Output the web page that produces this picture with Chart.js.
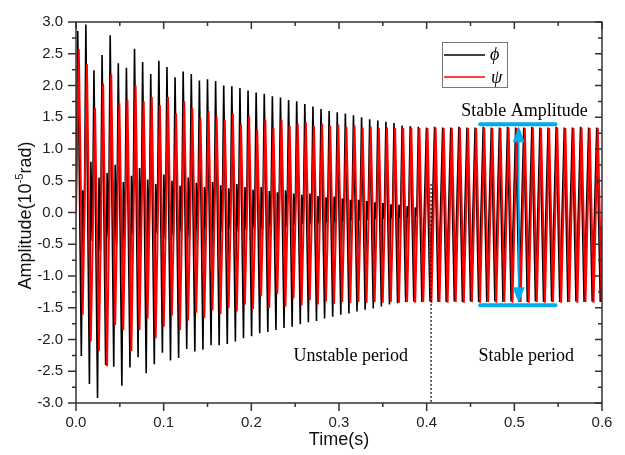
<!DOCTYPE html>
<html>
<head>
<meta charset="utf-8">
<script src="https://cdn.jsdelivr.net/npm/chart.js@4.4.0/dist/chart.umd.min.js"></script>
<style>
  html, body { margin: 0; padding: 0; background: #fff; }
</style>
</head>
<body>
<canvas id="myChart" width="625" height="455"></canvas>
<script>
// values, one entry per oscillation cycle
const period = 0.00925;      // s, spacing of the peaks
const phiStart = 0.002;      // time of the first phi peak
const psiStart = 0.0032;     // time of the first psi peak

const phiPeaks = [
  2.86, 2.96, 2.24, 2.48, 2.79, 2.35, 2.28, 2.58, 2.37, 2.18,
  2.39, 2.29, 2.13, 2.22, 2.18, 2.08, 2.10, 2.07, 2.00, 1.99,
  1.96, 1.92, 1.89, 1.87, 1.83, 1.81, 1.77, 1.75, 1.71, 1.67,
  1.63, 1.60, 1.58, 1.56, 1.53, 1.50, 1.47, 1.45, 1.43, 1.41,
  1.37, 1.36, 1.35, 1.34, 1.35, 1.34, 1.34, 1.35, 1.34, 1.34,
  1.35, 1.34, 1.34, 1.35, 1.34, 1.34, 1.35, 1.34, 1.34, 1.35,
  1.34, 1.34, 1.35, 1.34, 1.34, 1.35
];
const phiTroughs = [
  -2.26, -2.70, -2.92, -2.40, -2.43, -2.73, -2.44, -2.28, -2.53, -2.39,
  -2.21, -2.33, -2.29, -2.15, -2.19, -2.16, -2.09, -2.09, -2.07, -2.03,
  -1.98, -1.95, -1.90, -1.88, -1.85, -1.82, -1.80, -1.76, -1.73, -1.71,
  -1.67, -1.64, -1.61, -1.59, -1.56, -1.53, -1.51, -1.48, -1.45, -1.43,
  -1.41, -1.40, -1.41, -1.40, -1.41, -1.41, -1.40, -1.41, -1.40, -1.41,
  -1.41, -1.40, -1.41, -1.40, -1.41, -1.41, -1.40, -1.41, -1.40, -1.41,
  -1.41, -1.40, -1.41, -1.40, -1.41, -1.41
];
// small inner swing of phi during the unstable period
const phiInnerHi = [
  0.35, 0.80, 0.55, 0.62, 0.75, 0.48, 0.58, 0.70, 0.52, 0.45,
  0.60, 0.50, 0.42, 0.55, 0.47, 0.40, 0.48, 0.43, 0.38, 0.45,
  0.40, 0.36, 0.40, 0.34, 0.32, 0.35, 0.30, 0.28, 0.30, 0.26,
  0.24, 0.25, 0.22, 0.20, 0.20, 0.18, 0.16, 0.15, 0.13, 0.12,
  0.10, 0.08
];
const phiInnerLo = [
  -0.30, -0.45, -0.60, -0.38, -0.50, -0.42, -0.35, -0.48, -0.40, -0.33,
  -0.42, -0.36, -0.30, -0.38, -0.32, -0.28, -0.33, -0.30, -0.26, -0.30,
  -0.27, -0.24, -0.27, -0.22, -0.21, -0.23, -0.20, -0.18, -0.19, -0.17,
  -0.16, -0.16, -0.14, -0.13, -0.13, -0.12, -0.11, -0.10, -0.09, -0.08,
  -0.07, -0.06
];
const psiPeaks = [
  2.57, 2.34, 1.64, 2.03, 2.18, 1.72, 1.77, 2.00, 1.75, 1.82,
  1.69, 1.82, 1.56, 1.75, 1.64, 1.49, 1.60, 1.51, 1.46, 1.56,
  1.38, 1.51, 1.30, 1.46, 1.33, 1.46, 1.36, 1.40, 1.42, 1.36,
  1.40, 1.36, 1.38, 1.35, 1.37, 1.34, 1.35, 1.33, 1.34, 1.33,
  1.33, 1.34, 1.33, 1.33, 1.34, 1.33, 1.33, 1.34, 1.33, 1.33,
  1.34, 1.33, 1.33, 1.34, 1.33, 1.33, 1.34, 1.33, 1.33, 1.34,
  1.33, 1.33, 1.34, 1.33, 1.33, 1.34
];
const psiTroughs = [
  -1.61, -2.03, -2.18, -2.42, -1.77, -1.85, -2.18, -1.85, -1.67, -1.98,
  -1.80, -1.62, -1.85, -1.70, -1.58, -1.66, -1.54, -1.60, -1.50, -1.56,
  -1.45, -1.52, -1.32, -1.50, -1.28, -1.48, -1.35, -1.46, -1.38, -1.45,
  -1.40, -1.44, -1.41, -1.43, -1.41, -1.42, -1.41, -1.42, -1.41, -1.42,
  -1.41, -1.42, -1.41, -1.42, -1.41, -1.42, -1.41, -1.42, -1.41, -1.42,
  -1.41, -1.42, -1.41, -1.42, -1.41, -1.42, -1.41, -1.42, -1.41, -1.42,
  -1.41, -1.42, -1.41, -1.42, -1.41, -1.42
];

// annotation values
const splitTime = 0.405;
const stableTop = 1.39;
const stableBottom = -1.46;
const barFrom = 0.461;
const barTo = 0.547;
const arrowAt = 0.505;

const sans = "'Liberation Sans', Arial, sans-serif";
const serif = "'Liberation Serif', 'Times New Roman', serif";
const blue = '#00aeef';

let buildPhi = () => {
  const pts = [{ x: 0, y: 0 }];
  for (let k = 0; k < phiPeaks.length; k++) {
    const t0 = phiStart + k * period;
    pts.push({ x: t0, y: phiPeaks[k] });
    pts.push({ x: t0 + 0.44 * period, y: phiTroughs[k] });
    if (k < phiInnerHi.length) {
      pts.push({ x: t0 + 0.62 * period, y: phiInnerHi[k] });
      pts.push({ x: t0 + 0.8 * period, y: phiInnerLo[k] });
    }
  }
  return pts;
};
let buildPsi = () => {
  const pts = [{ x: 0, y: 0 }];
  for (let k = 0; k < psiPeaks.length; k++) {
    const t0 = psiStart + k * period;
    pts.push({ x: t0, y: psiPeaks[k] });
    pts.push({ x: t0 + 0.48 * period, y: psiTroughs[k] });
  }
  return pts;
};

const decor = {
  id: 'decor',
  afterDatasetsDraw(chart) {
    const { ctx, chartArea: ca } = chart;
    const xs = chart.scales.x;
    const ys = chart.scales.y;
    ctx.save();

    // dotted split line
    ctx.strokeStyle = '#000';
    ctx.lineWidth = 1.2;
    ctx.setLineDash([2, 2]);
    ctx.beginPath();
    ctx.moveTo(xs.getPixelForValue(splitTime), ys.getPixelForValue(0.45));
    ctx.lineTo(xs.getPixelForValue(splitTime), ca.bottom);
    ctx.stroke();
    ctx.setLineDash([]);

    // stable amplitude bars and arrow
    const x1 = xs.getPixelForValue(barFrom);
    const x2 = xs.getPixelForValue(barTo);
    const yt = ys.getPixelForValue(stableTop);
    const yb = ys.getPixelForValue(stableBottom);
    const xa = xs.getPixelForValue(arrowAt);
    ctx.strokeStyle = blue;
    ctx.fillStyle = blue;
    ctx.lineCap = 'round';
    ctx.lineWidth = 4;
    ctx.beginPath();
    ctx.moveTo(x1, yt); ctx.lineTo(x2, yt);
    ctx.moveTo(x1, yb); ctx.lineTo(x2, yb);
    ctx.stroke();
    ctx.lineCap = 'butt';
    ctx.lineWidth = 1.6;
    ctx.beginPath();
    ctx.moveTo(xa, yt + 10); ctx.lineTo(xa, yb - 10);
    ctx.stroke();
    ctx.beginPath();
    ctx.moveTo(xa, yt + 2); ctx.lineTo(xa - 6, yt + 18); ctx.lineTo(xa + 6, yt + 18);
    ctx.closePath();
    ctx.moveTo(xa, yb - 2); ctx.lineTo(xa - 6, yb - 18); ctx.lineTo(xa + 6, yb - 18);
    ctx.closePath();
    ctx.fill();

    // texts
    ctx.fillStyle = '#000';
    ctx.font = '18px ' + serif;
    ctx.textAlign = 'center';
    ctx.textBaseline = 'middle';
    ctx.fillText('Stable Amplitude', xs.getPixelForValue(0.5115), ys.getPixelForValue(1.6));
    ctx.fillText('Unstable period', xs.getPixelForValue(0.3135), ys.getPixelForValue(-2.26));
    ctx.fillText('Stable period', xs.getPixelForValue(0.5135), ys.getPixelForValue(-2.26));
    ctx.restore();
  },
  afterDraw(chart) {
    const { ctx, chartArea: ca } = chart;
    const xs = chart.scales.x;
    const ys = chart.scales.y;
    ctx.save();
    ctx.strokeStyle = '#333';
    ctx.lineWidth = 1.5;
    ctx.strokeRect(ca.left, ca.top, ca.right - ca.left, ca.bottom - ca.top);

    // ticks: out on left/bottom, in on top/right
    ctx.beginPath();
    for (let i = 0; i <= 12; i++) {
      const px = xs.getPixelForValue(i * 0.05);
      const major = i % 2 === 0;
      ctx.moveTo(px, ca.bottom); ctx.lineTo(px, ca.bottom + (major ? 8 : 4));
      ctx.moveTo(px, ca.top); ctx.lineTo(px, ca.top + (major ? 7 : 4));
    }
    for (let i = 0; i <= 24; i++) {
      const py = ys.getPixelForValue(-3 + i * 0.25);
      const major = i % 2 === 0;
      ctx.moveTo(ca.left, py); ctx.lineTo(ca.left - (major ? 8 : 4), py);
      ctx.moveTo(ca.right, py); ctx.lineTo(ca.right - (major ? 7 : 4), py);
    }
    ctx.stroke();

    // axis titles
    ctx.fillStyle = '#111';
    ctx.font = '18px ' + sans;
    ctx.textAlign = 'center';
    ctx.textBaseline = 'middle';
    ctx.fillText('Time(s)', (ca.left + ca.right) / 2, 440);

    ctx.translate(25, (ca.top + ca.bottom) / 2 + 3);
    ctx.rotate(-Math.PI / 2);
    const main = 'Amplitude(10';
    const sup = '-5';
    const tail = 'rad)';
    ctx.font = '18px ' + sans;
    const w1 = ctx.measureText(main).width;
    const w3 = ctx.measureText(tail).width;
    ctx.font = '11px ' + sans;
    const w2 = ctx.measureText(sup).width;
    let x = -(w1 + w2 + w3) / 2;
    ctx.textAlign = 'left';
    ctx.textBaseline = 'alphabetic';
    ctx.font = '18px ' + sans;
    ctx.fillText(main, x, 6);
    ctx.font = '11px ' + sans;
    ctx.fillText(sup, x + w1, -2);
    ctx.font = '18px ' + sans;
    ctx.fillText(tail, x + w1 + w2, 6);
    ctx.setTransform(1, 0, 0, 1, 0, 0);

    // legend box
    const lx = ca.left + 366;
    const ly = ca.top + 20;
    ctx.fillStyle = '#fff';
    ctx.fillRect(lx, ly, 65, 45);
    ctx.strokeStyle = '#777';
    ctx.lineWidth = 1;
    ctx.strokeRect(lx + 0.5, ly + 0.5, 65, 45);
    ctx.lineWidth = 1.5;
    ctx.strokeStyle = '#000';
    ctx.beginPath(); ctx.moveTo(lx + 2, ly + 13); ctx.lineTo(lx + 43, ly + 13); ctx.stroke();
    ctx.strokeStyle = '#ff0000';
    ctx.beginPath(); ctx.moveTo(lx + 2, ly + 35); ctx.lineTo(lx + 43, ly + 35); ctx.stroke();
    ctx.fillStyle = '#000';
    ctx.font = 'italic 18px ' + serif;
    ctx.textAlign = 'left';
    ctx.textBaseline = 'middle';
    ctx.fillText('\u03D5', lx + 48, ly + 13);
    ctx.fillText('\u03C8', lx + 49, ly + 36);
    ctx.restore();
  }
};

const ctx = document.getElementById('myChart');
const myChart = new Chart(ctx, {
  type: 'line',
  data: {
    datasets: [
      {
        label: '\u03D5',
        data: buildPhi(),
        borderColor: '#000000',
        borderWidth: 1.6,
        pointRadius: 0,
        tension: 0,
        order: 1,
      },
      {
        label: '\u03C8',
        data: buildPsi(),
        borderColor: '#ff0000',
        borderWidth: 2,
        pointRadius: 0,
        tension: 0,
        order: 0,
      },
    ],
  },
  options: {
    responsive: false,
    animation: false,
    devicePixelRatio: 1,
    layout: { padding: { top: 16, right: 23, left: 0, bottom: 0 } },
    plugins: { legend: { display: false }, tooltip: { enabled: false } },
    scales: {
      x: {
        type: 'linear',
        min: 0,
        max: 0.6,
        grid: { display: false, drawTicks: false },
        border: { display: false },
        ticks: {
          stepSize: 0.1,
          padding: 11,
          color: '#222',
          font: { family: sans, size: 15 },
          maxRotation: 0,
          callback: v => v.toFixed(1),
        },
        afterFit: s => { s.height = 52; },
      },
      y: {
        min: -3,
        max: 3,
        grid: { display: false, drawTicks: false },
        border: { display: false },
        ticks: {
          stepSize: 0.5,
          padding: 13,
          color: '#222',
          font: { family: sans, size: 15 },
          callback: v => v.toFixed(1),
        },
        afterFit: s => { s.width = 76; },
      },
    },
  },
  plugins: [decor],
});
</script>
</body>
</html>
